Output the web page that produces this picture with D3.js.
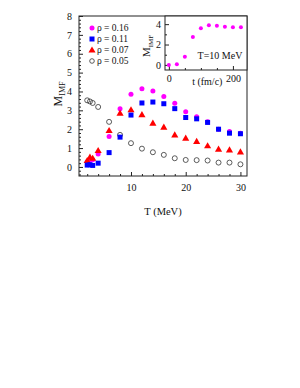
<!DOCTYPE html>
<html><head><meta charset="utf-8">
<script src="https://cdn.jsdelivr.net/npm/d3@7"></script>
<style>body{margin:0;background:#fff}svg{display:block}text{font-family:"Liberation Serif","Times New Roman",serif;fill:#111}</style>
</head><body>
<script>
const T = [2, 2.5, 3, 4, 6, 8, 10, 12, 14, 16, 18, 20, 22, 24, 26, 28, 30];
const rho016 = [0.28, 0.36, 0.38, 0.69, 1.61, 3.08, 3.85, 4.15, 4.03, 3.74, 3.37, 2.93, 2.66, 2.40, 2.00, 1.88, 1.78];
const rho011 = [0.10, 0.12, 0.08, 0.20, 0.76, 1.58, 2.75, 3.39, 3.44, 3.35, 3.09, 2.62, 2.55, 2.36, 2.00, 1.79, 1.76];
const rho007 = [0.34, 0.52, 0.46, 0.87, 1.93, 2.85, 3.03, 2.77, 2.32, 2.11, 1.70, 1.53, 1.35, 1.12, 0.94, 0.90, 0.80];
const rho005 = [3.53, 3.47, 3.39, 3.18, 2.39, 1.70, 1.26, 0.97, 0.78, 0.64, 0.46, 0.37, 0.36, 0.34, 0.23, 0.23, 0.14];
const legendLabels = ["ρ = 0.16", "ρ = 0.11", "ρ = 0.07", "ρ = 0.05"];
const xTicks = [10, 20, 30];
const yTicks = [0, 1, 2, 3, 4, 5, 6, 7, 8];
const insetT = [0, 25, 50, 75, 100, 125, 150, 175, 200, 225];
const insetM = [0.0, 0.07, 0.80, 2.75, 3.60, 3.90, 3.85, 3.75, 3.70, 3.70];
const insetXTicks = [0, 200];
const insetYTicks = [0, 2, 4];

const W = 300, H = 388;
const svg = d3.select("body").append("svg").attr("width", W).attr("height", H);

// main plot
const L = 79, R = 247, Tp = 16, B = 176;
const x = d3.scaleLinear().domain([0.5, 31.2]).range([L, R]);
const y = d3.scaleLinear().domain([-0.48, 8]).range([B, Tp]);

const axCol = "#222";
svg.append("rect").attr("x", L).attr("y", Tp).attr("width", R - L).attr("height", B - Tp)
  .attr("fill", "none").attr("stroke", axCol).attr("stroke-width", 1);

const xAxis = d3.axisBottom(x).tickValues(xTicks).tickSize(-4).tickPadding(8).tickFormat(d3.format("d"));
const gx = svg.append("g").attr("transform", `translate(0,${B})`).call(xAxis);
gx.select(".domain").remove();
gx.selectAll("text").attr("font-size", 10).style("font-family", '"Liberation Serif",serif');
gx.selectAll("line").attr("stroke", axCol);
const xMinor = d3.range(2, 31, 2).filter(v => !xTicks.includes(v));
const gxm = svg.append("g").attr("transform", `translate(0,${B})`).call(d3.axisBottom(x).tickValues(xMinor).tickSize(-2).tickFormat(""));
gxm.select(".domain").remove(); gxm.selectAll("line").attr("stroke", axCol);

const yAxis = d3.axisLeft(y).tickValues(yTicks).tickSize(-4).tickPadding(7).tickFormat(d3.format("d"));
const gy = svg.append("g").attr("transform", `translate(${L},0)`).call(yAxis);
gy.select(".domain").remove();
gy.selectAll("text").attr("font-size", 10).style("font-family", '"Liberation Serif",serif');
gy.selectAll("line").attr("stroke", axCol);
const yMinor = d3.range(-0.4, 8.0, 0.2).map(v => +v.toFixed(1)).filter(v => Math.abs(v - Math.round(v)) > 0.01);
const gym = svg.append("g").attr("transform", `translate(${L},0)`).call(d3.axisLeft(y).tickValues(yMinor).tickSize(-2).tickFormat(""));
gym.select(".domain").remove(); gym.selectAll("line").attr("stroke", axCol);

svg.append("text").attr("x", 163).attr("y", 215).attr("text-anchor", "middle").attr("font-size", 10.5).text("T (MeV)");
const yl = svg.append("text").attr("transform", "translate(62,94) rotate(-90)").attr("text-anchor", "middle").attr("font-size", 12);
yl.append("tspan").text("M");
yl.append("tspan").attr("font-size", 8).attr("dy", 3).text("IMF");

const pts = T.map((t, i) => ({t, a: rho016[i], b: rho011[i], c: rho007[i], d: rho005[i]}));
const tri = d3.symbol().type(d3.symbolTriangle).size(22);
const sq = 5;

svg.append("g").selectAll("circle").data(pts).join("circle")
  .attr("cx", d => x(d.t)).attr("cy", d => y(d.d)).attr("r", 2.5)
  .attr("fill", "none").attr("stroke", "#333").attr("stroke-width", 0.8);
svg.append("g").selectAll("circle").data(pts).join("circle")
  .attr("cx", d => x(d.t)).attr("cy", d => y(d.a)).attr("r", 2.5).attr("fill", "#ff00ff");
svg.append("g").selectAll("path").data(pts).join("path")
  .attr("d", tri).attr("transform", d => `translate(${x(d.t)},${y(d.c) + 0.5})`).attr("fill", "#ff0000");
svg.append("g").selectAll("rect").data(pts).join("rect")
  .attr("x", d => x(d.t) - sq / 2).attr("y", d => y(d.b) - sq / 2).attr("width", sq).attr("height", sq).attr("fill", "#0000ff");

const lg = svg.append("g");
const ly = [28, 39, 50, 61], lx = 92;
lg.append("circle").attr("cx", lx).attr("cy", ly[0]).attr("r", 2.5).attr("fill", "#ff00ff");
lg.append("rect").attr("x", lx - 2.5).attr("y", ly[1] - 2.5).attr("width", 5).attr("height", 5).attr("fill", "#0000ff");
lg.append("path").attr("d", tri).attr("transform", `translate(${lx},${ly[2] + 0.5})`).attr("fill", "#ff0000");
lg.append("circle").attr("cx", lx).attr("cy", ly[3]).attr("r", 2.3).attr("fill", "none").attr("stroke", "#333").attr("stroke-width", 0.8);
legendLabels.forEach((s, i) => lg.append("text").attr("x", lx + 5).attr("y", ly[i] + 3.3).attr("font-size", 9.5).text(s));

// inset
const iL = 165, iR = 247, iT = 16, iB = 70;
const ix = d3.scaleLinear().domain([-12, 244]).range([iL, iR]);
const iy = d3.scaleLinear().domain([-0.5, 4.8]).range([iB, iT]);
svg.append("rect").attr("x", iL).attr("y", iT).attr("width", iR - iL).attr("height", iB - iT)
  .attr("fill", "#fff").attr("stroke", axCol).attr("stroke-width", 1);
const gix = svg.append("g").attr("transform", `translate(0,${iB})`)
  .call(d3.axisBottom(ix).tickValues(insetXTicks).tickSize(-4).tickPadding(5).tickFormat(d3.format("d")));
gix.select(".domain").remove();
gix.selectAll("text").attr("font-size", 10).style("font-family", '"Liberation Serif",serif');
gix.selectAll("line").attr("stroke", axCol);
const gixm = svg.append("g").attr("transform", `translate(0,${iB})`)
  .call(d3.axisBottom(ix).tickValues([50, 100, 150]).tickSize(-2).tickFormat(""));
gixm.select(".domain").remove(); gixm.selectAll("line").attr("stroke", axCol);
const giy = svg.append("g").attr("transform", `translate(${iL},0)`)
  .call(d3.axisLeft(iy).tickValues(insetYTicks).tickSize(-4).tickPadding(4).tickFormat(d3.format("d")));
giy.select(".domain").remove();
giy.selectAll("text").attr("font-size", 10).style("font-family", '"Liberation Serif",serif');
giy.selectAll("line").attr("stroke", axCol);
const giym = svg.append("g").attr("transform", `translate(${iL},0)`)
  .call(d3.axisLeft(iy).tickValues([1, 3]).tickSize(-2).tickFormat(""));
giym.select(".domain").remove(); giym.selectAll("line").attr("stroke", axCol);

svg.append("text").attr("x", ix(120)).attr("y", 85).attr("text-anchor", "middle").attr("font-size", 10).text("t (fm/c)");
const iyl = svg.append("text").attr("transform", "translate(150,46) rotate(-90)").attr("text-anchor", "middle").attr("font-size", 11);
iyl.append("tspan").text("M");
iyl.append("tspan").attr("font-size", 7).attr("dy", 2.5).text("IMF");
svg.append("text").attr("x", 220).attr("y", 59).attr("text-anchor", "middle").attr("font-size", 10).text("T=10 MeV");

svg.append("g").selectAll("circle").data(insetT.map((t, i) => ({t, m: insetM[i]}))).join("circle")
  .attr("cx", d => ix(d.t)).attr("cy", d => iy(d.m)).attr("r", 2).attr("fill", "#ff00ff");
</script>
</body></html>
